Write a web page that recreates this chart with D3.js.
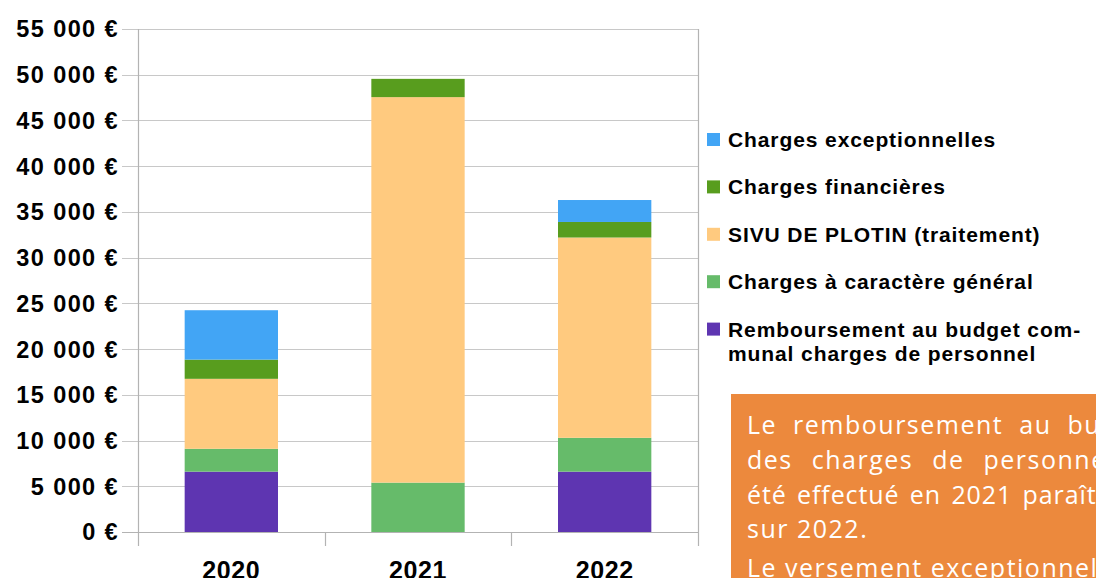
<!DOCTYPE html>
<html>
<head>
<meta charset="utf-8">
<script src="https://cdn.jsdelivr.net/npm/d3@7"></script>
<style>
  body { margin: 0; background: #fff; overflow: hidden; }
  svg { display: block; }
</style>
</head>
<body>
<script>
// data
var years = ["2020", "2021", "2022"];
var seriesNames = [
  "Remboursement au budget communal charges de personnel",
  "Charges à caractère général",
  "SIVU DE PLOTIN (traitement)",
  "Charges financières",
  "Charges exceptionnelles"
];
var remboursement = [6600, 0, 6600];
var chargesGenerales = [2500, 5400, 3700];
var sivu = [7650, 42150, 21900];
var chargesFinancieres = [2100, 2000, 1700];
var chargesExceptionnelles = [5400, 0, 2400];
var colors = ["#5e35b1", "#66bb6a", "#ffca7f", "#589d1e", "#42a5f5"];
var yTicks = [0, 5000, 10000, 15000, 20000, 25000, 30000, 35000, 40000, 45000, 50000, 55000];
var legendLines = [
  ["Charges exceptionnelles"],
  ["Charges financières"],
  ["SIVU DE PLOTIN (traitement)"],
  ["Charges à caractère général"],
  ["Remboursement au budget com-", "munal charges de personnel"]
];
var noteLines = [
  "Le remboursement au budget communal",
  "des charges de personnel qui n'a pas",
  "été effectué en 2021 paraît donc",
  "sur 2022.",
  "Le versement exceptionnel"
];
var noteWordSpacing = [8, 11, 3, 0, 0];
var noteLetterSpacing = [1.5, 1.5, 0.9, 1.5, 1.5];

var WIDTH = 1096, HEIGHT = 578;
var MARGIN = {left: 138, top: 29};
var INNER_WIDTH = 560, INNER_HEIGHT = 503;

var rows = years.map(function(y, i){
  return {
    year: y,
    s0: remboursement[i], s1: chargesGenerales[i], s2: sivu[i],
    s3: chargesFinancieres[i], s4: chargesExceptionnelles[i]
  };
});
var stack = d3.stack().keys(["s0", "s1", "s2", "s3", "s4"]);
var layers = stack(rows);

var svg = d3.select("body").append("svg")
  .attr("width", WIDTH).attr("height", HEIGHT);

var xScale = d3.scaleBand().domain(years).range([0, INNER_WIDTH])
  .paddingInner(0.5).paddingOuter(0.25);
var yScale = d3.scaleLinear().domain([0, 55000]).range([INNER_HEIGHT, 0]);

var g = svg.append("g")
  .attr("transform", "translate(" + MARGIN.left + "," + MARGIN.top + ")");

var fmt = function(d){ return d3.format(",")(d).replace(/,/g, " ") + " €"; };

// grid
g.selectAll(".grid").data(yTicks).enter().append("line")
  .attr("x1", -16).attr("x2", INNER_WIDTH)
  .attr("y1", function(d){ return Math.round(yScale(d)) + 0.5; })
  .attr("y2", function(d){ return Math.round(yScale(d)) + 0.5; })
  .attr("stroke", function(d){ return d === 0 ? "#b3b3b3" : "#c8c8c8"; })
  .attr("stroke-width", 1.2);

// y labels
g.selectAll(".ylab").data(yTicks).enter().append("text")
  .attr("x", -19).attr("y", function(d){ return yScale(d); })
  .attr("dy", "0.36em")
  .attr("text-anchor", "end")
  .style("font-family", "'Liberation Sans', Arial, sans-serif")
  .style("font-weight", "bold").style("font-size", "23.5px")
  .style("letter-spacing", "1.4px")
  .attr("fill", "#000")
  .text(fmt);

// bars
g.selectAll(".layer").data(layers).enter().append("g")
  .attr("fill", function(d, i){ return colors[i]; })
  .selectAll("rect").data(function(d){ return d; }).enter().append("rect")
  .attr("x", function(d){ return xScale(d.data.year); })
  .attr("width", xScale.bandwidth())
  .attr("y", function(d){ return yScale(d[1]); })
  .attr("height", function(d){ return yScale(d[0]) - yScale(d[1]); });

// frame: left axis, right border, category ticks
var step = xScale.step();
var bounds = d3.range(years.length + 1).map(function(i){ return i * step; });
g.selectAll(".vline").data(bounds).enter().append("line")
  .attr("x1", function(d){ return Math.round(d) + 0.5; })
  .attr("x2", function(d){ return Math.round(d) + 0.5; })
  .attr("y1", function(d, i){ return (i === 0 || i === years.length) ? 0 : INNER_HEIGHT; })
  .attr("y2", INNER_HEIGHT + 14)
  .attr("stroke", "#b3b3b3").attr("stroke-width", 1.2);

// x labels
g.selectAll(".xlab").data(years).enter().append("text")
  .attr("x", function(d){ return xScale(d) + xScale.bandwidth() / 2; })
  .attr("y", INNER_HEIGHT + 47)
  .attr("text-anchor", "middle")
  .style("font-family", "'Liberation Sans', Arial, sans-serif")
  .style("font-weight", "bold").style("font-size", "25px")
  .style("letter-spacing", "0.6px")
  .text(function(d){ return d; });

// legend
var legend = svg.append("g").attr("transform", "translate(707,147)");
var items = legend.selectAll(".item").data(legendLines).enter().append("g")
  .attr("transform", function(d, i){ return "translate(0," + (i * 47.4) + ")"; });
items.append("rect")
  .attr("x", 0).attr("y", -14).attr("width", 13).attr("height", 13)
  .attr("fill", function(d, i){ return colors[colors.length - 1 - i]; });
items.each(function(lines){
  var t = d3.select(this).append("text")
    .attr("x", 21).attr("y", 0)
    .style("font-family", "'Liberation Sans', Arial, sans-serif")
    .style("font-weight", "bold").style("font-size", "21px")
    .style("letter-spacing", "0.9px");
  t.selectAll("tspan").data(lines).enter().append("tspan")
    .attr("x", 21).attr("dy", function(d, i){ return i === 0 ? 0 : 24; })
    .text(function(d){ return d; });
});

// note box
var note = svg.append("g");
note.append("rect")
  .attr("x", 731).attr("y", 394).attr("width", 400).attr("height", 200)
  .attr("fill", "#ec893d");
note.selectAll("text").data(noteLines).enter().append("text")
  .attr("x", 747)
  .attr("y", function(d, i){ return 434 + i * 34.8 + (i === 4 ? 4 : 0); })
  .attr("fill", "#fff")
  .style("font-family", "'Open Sans', sans-serif")
  .style("font-size", "25px")
  .style("letter-spacing", function(d, i){ return noteLetterSpacing[i] + "px"; })
  .style("word-spacing", function(d, i){ return noteWordSpacing[i] + "px"; })
  .text(function(d){ return d; });
</script>
</body>
</html>
